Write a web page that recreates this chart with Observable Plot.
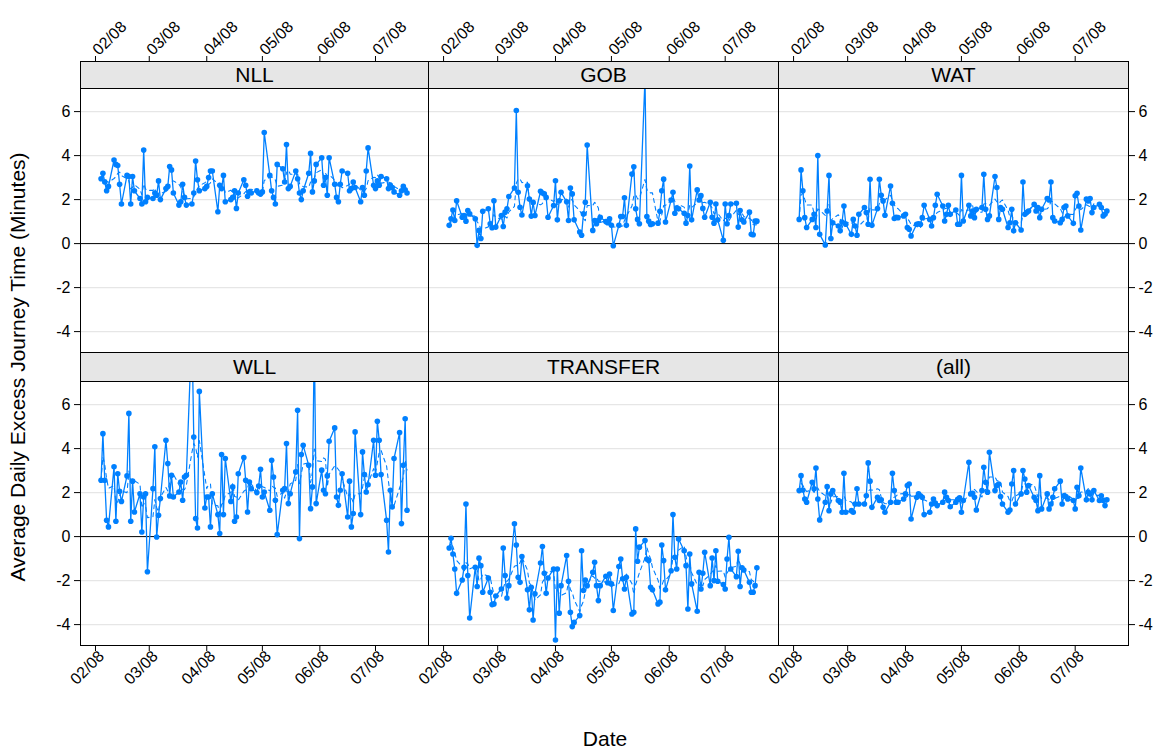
<!DOCTYPE html>
<html>
<head>
<meta charset="utf-8">
<script src="https://cdn.jsdelivr.net/npm/d3@7"></script>
<script src="https://cdn.jsdelivr.net/npm/@observablehq/plot@0.6"></script>
<style>
  body { margin: 0; background: #fff; font-family: "Liberation Sans", Arial, sans-serif; }
  #chart { position: relative; width: 1168px; height: 754px; overflow: hidden; background: #fff; }
  .panel { position: absolute; }
  .strip { position: absolute; box-sizing: border-box; background: #e6e6e6; border: 1px solid #000;
           text-align: center; font-size: 21px; color: #000; z-index: 2; }
  .title { position: absolute; font-size: 21px; color: #000; white-space: nowrap; }
</style>
</head>
<body>
<div id="chart"></div>
<script>
// Route names, one panel each
const routes = ["NLL", "GOB", "WAT", "WLL", "TRANSFER", "(all)"];

// Average daily excess journey time (minutes), one value per weekday 4 Feb – 18 Jul 2008
const nll = [2.95,3.2,2.8,2.4,2.6,3.8,3.6,3.55,2.7,1.8,3.1,3.05,1.8,3.05,2.4,2.05,1.8,4.25,1.9,2.1,
  2.05,2.3,2.2,2.85,2.0,2.5,2.6,3.5,3.35,2.3,1.75,1.9,2.7,2.1,1.75,1.8,2.3,3.75,2.9,2.4,
  2.5,2.6,3.0,3.3,3.3,1.45,2.65,2.5,3.1,1.9,2.0,2.1,2.4,1.6,2.3,2.9,2.65,2.15,2.35,2.3,2.4,
  2.3,2.25,2.35,5.05,3.1,2.4,2.1,1.8,3.6,3.4,2.8,4.5,2.5,2.6,3.3,2.95,2.3,2.0,2.4,3.2,
  4.1,2.35,2.85,3.6,3.9,2.65,3.0,2.2,3.9,2.7,2.1,1.9,2.7,3.3,3.2,2.4,2.5,2.8,2.55,1.9,
  2.55,2.2,3.3,4.35,2.65,2.5,2.85,2.65,3.05,2.95,2.5,2.65,2.55,2.35,2.2,2.4,2.6,2.45,2.3];
const gob = [0.83,1.13,1.53,1.05,1.95,1.2,1.28,1.02,1.5,1.35,1.13,-0.08,0.6,0.23,1.47,1.58,0.9,0.72,1.95,0.75,
  1.28,0.78,1.43,1.58,2.14,2.53,6.05,2.33,1.65,1.3,2.63,2.03,1.25,1.88,1.28,2.38,2.3,2.26,2.1,1.2,
  1.73,2.86,1.08,1.95,2.33,1.9,1.05,2.53,2.26,1.08,0.53,0.38,1.35,1.88,4.48,0.6,1.05,0.9,1.05,1.2,1.0,0.95,
  1.13,0.83,-0.1,0.83,1.23,1.23,2.08,0.83,3.16,3.49,1.58,1.1,0.9,7.5,1.23,1.02,0.87,0.9,0.93,1.47,
  2.4,2.93,0.98,1.98,2.33,1.38,1.62,1.58,1.38,0.93,1.28,3.53,1.08,2.44,1.98,2.18,1.6,1.2,1.88,1.2,
  0.93,1.8,1.08,0.15,1.8,0.9,1.28,1.8,1.83,0.75,1.5,1.08,0.98,1.43,0.42,0.4,1.02,1.02];
const wat = [1.1,3.35,2.4,1.18,0.73,1.1,1.33,0.73,4.0,0.42,-0.06,1.48,3.1,0.23,0.95,0.8,0.58,0.98,1.71,0.88,
  0.42,1.1,0.8,0.38,1.33,1.64,1.41,0.88,2.92,0.83,1.59,2.92,2.2,1.94,1.29,2.62,1.83,1.14,1.2,1.18,
  1.26,1.33,0.73,0.65,0.35,0.88,0.9,0.88,1.18,1.74,1.1,0.8,1.18,1.74,2.24,1.71,1.03,1.33,1.74,1.33,1.53,0.88,
  0.88,3.1,1.03,1.74,1.26,1.48,1.18,1.56,1.64,3.15,1.56,1.1,1.26,3.05,2.55,1.1,1.64,1.56,0.73,0.95,
  1.56,0.58,0.95,0.62,2.8,1.33,1.41,1.48,1.79,1.48,1.64,1.18,1.56,2.05,1.98,2.8,1.18,1.03,0.95,1.1,
  1.64,1.71,1.26,0.92,2.17,2.29,1.71,0.62,2.02,1.94,2.05,1.41,1.64,1.79,1.64,1.26,1.33,1.48];
const wll = [2.56,4.68,2.56,0.74,0.44,3.17,0.7,2.86,2.06,1.6,2.76,5.6,0.7,2.52,1.12,1.95,0.21,1.8,1.95,-1.6,
  2.18,4.08,-0.02,0.97,1.73,4.38,3.32,1.85,2.79,1.8,2.03,2.48,1.65,2.71,2.79,9.5,4.53,0.82,0.39,6.6,
  1.3,1.8,1.8,0.44,1.95,1.0,0.14,3.73,1.0,3.55,1.6,2.26,0.7,0.89,2.86,3.59,2.56,1.12,2.48,2.18,2.0,2.3,
  3.06,1.8,2.03,1.2,3.47,2.71,1.65,0.09,2.11,2.18,4.23,1.5,1.95,2.94,5.74,-0.09,3.73,4.15,3.24,1.27,
  2.26,9.0,1.5,3.02,2.11,1.95,2.76,4.33,4.94,1.8,1.42,2.11,2.86,0.89,2.52,0.44,1.05,4.76,1.0,3.85,
  2.82,2.03,2.36,4.38,2.79,5.24,4.38,2.82,0.74,-0.7,2.11,1.35,3.55,4.73,0.59,3.24,5.36,1.2];
const transfer = [-0.52,-0.08,-0.79,-1.47,-2.58,-1.97,-1.39,1.48,-1.77,-3.7,-1.39,-2.27,-0.98,-1.32,-2.53,-1.88,-2.53,-3.09,-3.06,-2.7,
  -2.38,-0.52,-1.77,-2.79,-2.23,0.58,-0.38,-1.85,-2.08,-0.91,-2.42,-3.33,-2.3,-3.79,-2.6,-1.2,-0.45,-1.67,-2.58,-1.88,
  -1.47,-4.7,-1.47,-3.48,-2.23,-0.86,-2.03,-3.44,-4.09,-3.9,-3.59,-0.64,-2.45,-1.97,-2.23,-1.62,-1.17,-2.23,-2.91,-2.23,-1.8,-2.1,
  -1.7,-2.15,-3.36,-1.36,-1.02,-1.92,-2.38,-1.85,-3.52,-3.44,0.35,-1.12,-0.48,-0.18,-1.02,-1.09,-2.3,-2.42,-3.06,-2.98,
  -0.38,-1.09,-2.42,-1.55,1.0,-0.94,-1.47,-0.11,-0.64,-1.32,-3.29,-0.79,-2.15,-3.39,-1.62,-2.38,-1.67,-0.71,-2.23,-0.97,
  -2.0,-0.64,-2.03,-2.18,-2.38,-1.02,-0.03,-1.47,-1.82,-0.67,-2.27,-1.42,-1.52,-2.08,-2.53,-2.53,-2.23,-1.42];
const allRoutes = [2.09,2.77,2.12,1.71,1.56,2.47,2.17,3.12,1.71,0.76,1.56,2.27,1.18,1.94,2.09,1.64,1.56,1.11,2.88,1.11,
  1.18,1.11,1.48,2.17,1.48,1.48,1.86,3.35,2.52,1.33,1.79,1.64,1.67,1.33,1.11,1.56,2.88,2.09,1.56,1.56,
  1.71,1.94,2.32,2.39,0.8,1.79,1.94,1.86,1.79,1.0,1.11,1.48,1.71,1.52,1.41,1.56,2.02,1.79,1.64,1.36,1.56,1.7,
  1.76,1.11,1.64,3.38,1.94,1.97,1.79,1.21,2.09,3.15,2.47,2.02,3.83,2.09,2.32,2.39,1.82,1.48,1.11,1.21,
  2.39,3.0,1.48,1.94,3.0,2.62,2.02,2.32,1.79,1.64,1.18,2.77,1.26,1.94,1.26,1.48,1.79,2.17,2.52,1.48,
  1.86,1.82,1.71,1.64,1.26,2.24,1.86,3.12,1.67,2.02,1.94,1.67,2.09,1.64,1.86,1.64,1.41,1.67];

// Axis ticks
const monthTicks = ["2008-02-01", "2008-03-01", "2008-04-01", "2008-05-01", "2008-06-01", "2008-07-01"].map(d => new Date(d));
const yTicks = [-4, -2, 0, 2, 4, 6];
const gridLines = [-4, -2, 2, 4, 6];

const series = [nll, gob, wat, wll, transfer, allRoutes];

// Weekdays covered by the series
const days = d3.utcDays(new Date("2008-02-04"), new Date("2008-07-19"))
  .filter(d => d.getUTCDay() !== 0 && d.getUTCDay() !== 6);

const color = "#0080ff";
const xDomain = [new Date("2008-01-23T22:00Z"), new Date("2008-07-29T14:00Z")];
const yDomain = [-4.95, 7.05];
const fmt = d3.utcFormat("%m/%y");

// Lattice-style 3 x 2 layout
const colEdges = [[80, 428], [428, 778], [778, 1128]];
const rowEdges = [[88, 352], [381, 645]];
const stripTops = [61, 352];

const chart = document.getElementById("chart");

routes.forEach((route, k) => {
  const r = Math.floor(k / 3), c = k % 3;
  const [x1, x2] = colEdges[c];
  const [y1, y2] = rowEdges[r];
  const W = x2 - x1, H = y2 - y1;
  const rows = series[k].slice(0, days.length).map((v, i) => ({date: days[i], value: v}));

  const marks = [
    Plot.ruleY(gridLines, {stroke: "#e6e6e6", strokeWidth: 1.3}),
    Plot.ruleY([0], {stroke: "#000", strokeWidth: 1}),
    Plot.line(rows, Plot.windowY({k: 5, anchor: "end", reduce: "mean"},
      {x: "date", y: "value", stroke: color, strokeWidth: 1.1, strokeDasharray: "4,4", clip: true})),
    Plot.line(rows, {x: "date", y: "value", stroke: color, strokeWidth: 1.3, clip: true}),
    Plot.dot(rows, {x: "date", y: "value", r: 2.8, fill: color, stroke: "none", clip: true}),
    Plot.frame({stroke: "#000", strokeWidth: 1})
  ];
  if (r === 0) marks.push(Plot.axisX({anchor: "top", ticks: monthTicks, tickFormat: fmt, tickRotate: -45,
    tickSize: 6, tickPadding: 3, label: null, dy: -(y1 - stripTops[0])}));
  if (r === 1) {
    // tick marks, then the rotated month labels nudged so they end just right of each tick
    marks.push(Plot.axisX({anchor: "bottom", ticks: monthTicks, tickFormat: () => "", tickSize: 6, label: null}));
    marks.push(Plot.axisX({anchor: "bottom", ticks: monthTicks, tickFormat: fmt, tickRotate: -45,
      tickSize: 0, tickPadding: 8, dx: 6, label: null}));
  }
  if (c === 0) marks.push(Plot.axisY({anchor: "left", ticks: yTicks, tickFormat: d => String(d),
    tickSize: 6, tickPadding: 4, label: null}));
  if (c === 2) marks.push(Plot.axisY({anchor: "right", ticks: yTicks, tickFormat: d => String(d),
    tickSize: 6, tickPadding: 4, label: null}));

  const svg = Plot.plot({
    width: W, height: H, margin: 0,
    x: {type: "utc", domain: xDomain, axis: null},
    y: {domain: yDomain, axis: null},
    style: "background: transparent; overflow: visible; font-family: 'Liberation Sans', Arial, sans-serif; font-size: 16px; color: #000;",
    marks
  });
  svg.classList.add("panel");
  svg.style.left = x1 + "px";
  svg.style.top = y1 + "px";
  chart.appendChild(svg);

  const strip = document.createElement("div");
  strip.className = "strip";
  strip.style.left = x1 + "px";
  strip.style.top = stripTops[r] + "px";
  strip.style.width = (W + 1) + "px";
  strip.style.height = (y1 - stripTops[r] + 1) + "px";
  strip.style.lineHeight = (y1 - stripTops[r] - 1) + "px";
  strip.textContent = route;
  chart.appendChild(strip);
});

// Axis titles
const xTitle = document.createElement("div");
xTitle.className = "title";
xTitle.textContent = "Date";
xTitle.style.left = "605px";
xTitle.style.top = "739px";
xTitle.style.transform = "translate(-50%, -50%)";
chart.appendChild(xTitle);

const yTitle = document.createElement("div");
yTitle.className = "title";
yTitle.textContent = "Average Daily Excess Journey Time (Minutes)";
yTitle.style.left = "18px";
yTitle.style.top = "367px";
yTitle.style.transform = "translate(-50%, -50%) rotate(-90deg)";
chart.appendChild(yTitle);
</script>
</body>
</html>
